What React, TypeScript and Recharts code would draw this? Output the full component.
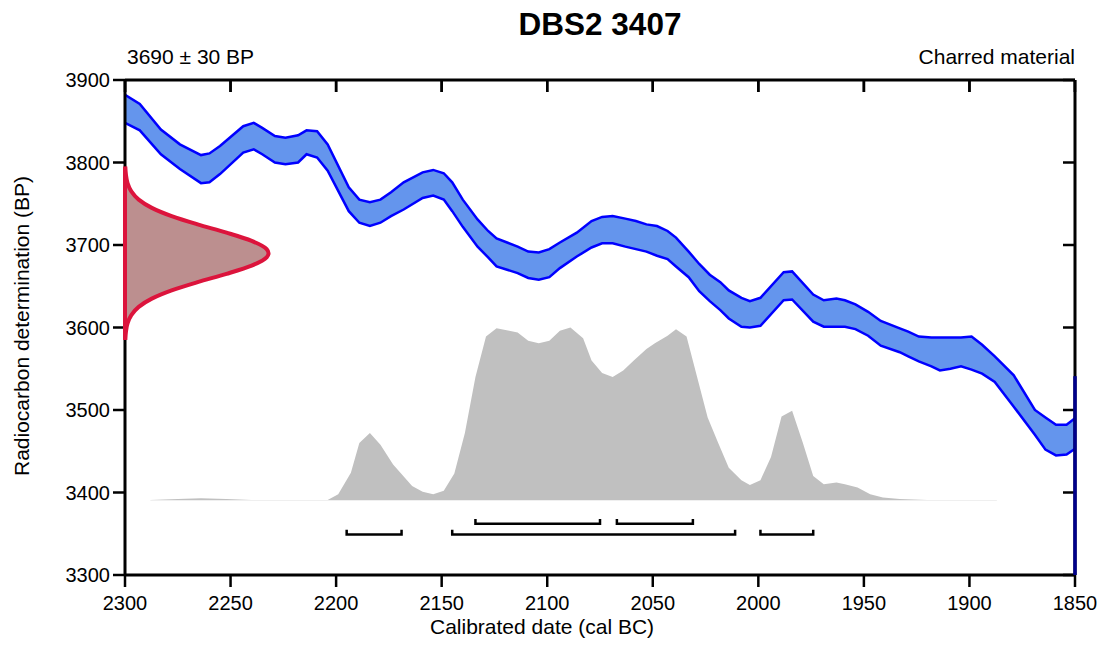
import React from "react"
import { ComposedChart, Area, Line, XAxis, YAxis, ReferenceLine } from "recharts"

const FONT = '"Liberation Sans", Arial, Helvetica, sans-serif'

// calibration curve (cal BC) with lower / upper edges of the band (BP)
const bandYears = [2300, 2293, 2283, 2274, 2264, 2260, 2255, 2244, 2239, 2235, 2229, 2224, 2218, 2214, 2209, 2204, 2194, 2189, 2184, 2179, 2174, 2168, 2159, 2154, 2149, 2145, 2140, 2133, 2128, 2124, 2119, 2114, 2109, 2104, 2099, 2094, 2086, 2079, 2074, 2069, 2063, 2058, 2053, 2048, 2043, 2039, 2033, 2028, 2023, 2018, 2014, 2008, 2004, 1999, 1988, 1984, 1974, 1969, 1963, 1959, 1954, 1948, 1942, 1933, 1929, 1924, 1918, 1914, 1909, 1904, 1899, 1894, 1888, 1879, 1869, 1864, 1859, 1854, 1850]
const bandLower = [3848, 3839, 3810, 3792, 3775, 3776, 3786, 3812, 3816, 3810, 3800, 3798, 3800, 3810, 3806, 3790, 3741, 3727, 3723, 3727, 3735, 3743, 3757, 3760, 3755, 3741, 3722, 3698, 3685, 3674, 3670, 3666, 3660, 3658, 3661, 3672, 3686, 3697, 3702, 3702, 3698, 3695, 3692, 3687, 3683, 3674, 3661, 3644, 3632, 3621, 3611, 3601, 3600, 3602, 3633, 3634, 3607, 3601, 3601, 3601, 3598, 3590, 3578, 3570, 3565, 3559, 3553, 3548, 3550, 3553, 3549, 3544, 3534, 3504, 3470, 3452, 3445, 3446, 3453]
const bandUpper = [3882, 3871, 3840, 3822, 3809, 3811, 3820, 3844, 3848, 3842, 3832, 3830, 3833, 3839, 3838, 3822, 3770, 3755, 3752, 3755, 3764, 3776, 3788, 3791, 3787, 3776, 3755, 3731, 3717, 3708, 3703, 3698, 3692, 3691, 3695, 3703, 3715, 3729, 3734, 3735, 3732, 3729, 3725, 3723, 3717, 3709, 3692, 3677, 3664, 3655, 3645, 3636, 3632, 3636, 3667, 3668, 3640, 3633, 3635, 3633, 3628, 3619, 3608, 3599, 3595, 3589, 3588, 3588, 3588, 3588, 3589, 3579, 3565, 3542, 3500, 3491, 3482, 3482, 3490]

// calibrated probability distribution (drawn on the BP scale, sitting on PROB_BASE)
const PROB_BASE = 3390.5
const probYears = [2288, 2275, 2264, 2252, 2240, 2204, 2199, 2193, 2189, 2184, 2179, 2173, 2164, 2159, 2154, 2149, 2144, 2139, 2134, 2129, 2124, 2118, 2114, 2109, 2104, 2099, 2094, 2089, 2083, 2079, 2074, 2069, 2064, 2059, 2053, 2049, 2043, 2039, 2034, 2029, 2024, 2019, 2014, 2008, 2004, 1999, 1994, 1989, 1984, 1979, 1974, 1969, 1963, 1959, 1953, 1947, 1941, 1933, 1920, 1900, 1887]
const probValues = [3391, 3392, 3393, 3392, 3391, 3391, 3398, 3424, 3460, 3472, 3458, 3434, 3408, 3401, 3398, 3402, 3423, 3472, 3540, 3589, 3599, 3596, 3594, 3584, 3581, 3584, 3596, 3600, 3587, 3560, 3545, 3540, 3548, 3560, 3574, 3581, 3590, 3598, 3589, 3540, 3491, 3460, 3430, 3415, 3409, 3415, 3443, 3492, 3499, 3461, 3420, 3410, 3412, 3410, 3406, 3398, 3394, 3392, 3391, 3391, 3391]

// radiocarbon measurement 3690 ± 30 BP, width in years from the axis
const pdfBP = [3795, 3785, 3775, 3765, 3755, 3745, 3735, 3725, 3715, 3705, 3695, 3690, 3685, 3675, 3665, 3655, 3645, 3635, 3625, 3615, 3605, 3595, 3585]
const pdfWidth = [0.15, 0.45, 1.2, 3.0, 6.5, 12.7, 22.1, 34.4, 48.1, 60.0, 67.1, 68, 67.1, 60.0, 48.1, 34.4, 22.1, 12.7, 6.5, 3.0, 1.2, 0.45, 0.15]

// highest posterior density ranges (cal BC)
const ranges68 = [[2134, 2075], [2067, 2031]]
const ranges95 = [[2195, 2169], [2145, 2011], [1999, 1974]]
const LEVEL68 = [3362, 3368]
const LEVEL95 = [3349, 3355]

const xTicks = [2300, 2250, 2200, 2150, 2100, 2050, 2000, 1950, 1900, 1850]
const yTicks = [3300, 3400, 3500, 3600, 3700, 3800, 3900]

const bandData = bandYears.map((yr, i) => ({ yr, band: [bandLower[i], bandUpper[i]] }))
const probData = probYears.map((yr, i) => ({ yr, p: probValues[i] }))
const pdfData = pdfBP.map((bp, i) => ({ bp, h: pdfWidth[i] }))
const bracket = (r: number[], lvl: number[]) => [
  { yr: r[0], y: lvl[1] },
  { yr: r[0], y: lvl[0] },
  { yr: r[1], y: lvl[0] },
  { yr: r[1], y: lvl[1] },
]

const W = 1101
const H = 651
const TOP_TICK_BP = 14.5 // inward tick length on the top frame, in BP units (~12px)
const axisStyle = { stroke: "#000", strokeWidth: 3 }
const tickStyle = { stroke: "#000", strokeWidth: 2.5 }
const noLabel = () => <g />

export default function App() {
  return (
    <div style={{ position: "absolute", left: 0, top: 0, width: W, height: H, fontFamily: FONT, background: "#fff" }}>
      <div style={{ position: "absolute", left: 0, top: 0 }}>
        <ComposedChart width={W} height={H} margin={{ top: 68, right: 26, bottom: 0, left: 0 }}>
          <XAxis
            xAxisId="b"
            type="number"
            dataKey="yr"
            domain={[1850, 2300]}
            reversed
            allowDataOverflow
            ticks={xTicks}
            height={76}
            tickSize={12}
            tickMargin={9}
            axisLine={axisStyle}
            tickLine={tickStyle}
            tick={{ fontSize: 20, fill: "#000", fontFamily: FONT }}
          />
          <XAxis
            xAxisId="t"
            orientation="top"
            type="number"
            dataKey="yr"
            domain={[1850, 2300]}
            reversed
            allowDataOverflow
            ticks={xTicks}
            interval={0}
            height={12}
            tickSize={-12}
            axisLine={axisStyle}
            tickLine={tickStyle}
            tick={noLabel}
          />
          <YAxis
            yAxisId="l"
            type="number"
            domain={[3300, 3900]}
            allowDataOverflow
            ticks={yTicks}
            width={125}
            tickSize={12}
            tickMargin={3}
            axisLine={axisStyle}
            tickLine={tickStyle}
            tick={{ fontSize: 20, fill: "#000", fontFamily: FONT }}
          />
          <YAxis
            yAxisId="r"
            orientation="right"
            mirror
            type="number"
            domain={[3300, 3900]}
            allowDataOverflow
            ticks={yTicks}
            interval={0}
            width={1}
            tickSize={12}
            axisLine={axisStyle}
            tickLine={tickStyle}
            tick={noLabel}
          />
          <Area
            xAxisId="b"
            yAxisId="l"
            data={probData}
            dataKey="p"
            baseValue={PROB_BASE}
            type="linear"
            fill="#C0C0C0"
            fillOpacity={1}
            stroke="none"
            isAnimationActive={false}
          />
          {ranges68.map((r, i) => (
            <Line
              key={"a" + i}
              xAxisId="b"
              yAxisId="l"
              data={bracket(r, LEVEL68)}
              dataKey="y"
              type="linear"
              stroke="#000"
              strokeWidth={2.5}
              dot={false}
              activeDot={false}
              isAnimationActive={false}
            />
          ))}
          {ranges95.map((r, i) => (
            <Line
              key={"b" + i}
              xAxisId="b"
              yAxisId="l"
              data={bracket(r, LEVEL95)}
              dataKey="y"
              type="linear"
              stroke="#000"
              strokeWidth={2.5}
              dot={false}
              activeDot={false}
              isAnimationActive={false}
            />
          ))}
          {/* inward ticks along the top frame */}
          {xTicks.map((t) => (
            <Line
              key={"tt" + t}
              xAxisId="b"
              yAxisId="l"
              data={[
                { yr: t, y: 3900 },
                { yr: t, y: 3900 - TOP_TICK_BP },
              ]}
              dataKey="y"
              type="linear"
              stroke="#000"
              strokeWidth={2.5}
              dot={false}
              activeDot={false}
              isAnimationActive={false}
            />
          ))}
          <Area
            xAxisId="b"
            yAxisId="l"
            data={bandData}
            dataKey="band"
            type="linear"
            fill="#6495ED"
            fillOpacity={1}
            stroke="#0000FF"
            strokeWidth={2.5}
            isAnimationActive={false}
          />
          {/* invisible series so the top and right frame axes get drawn */}
          <Line
            xAxisId="t"
            yAxisId="r"
            data={probData}
            dataKey="p"
            stroke="none"
            dot={false}
            activeDot={false}
            legendType="none"
            isAnimationActive={false}
          />
        </ComposedChart>
      </div>
      <div style={{ position: "absolute", left: 0, top: 0 }}>
        <ComposedChart layout="vertical" width={W} height={H} margin={{ top: 80, right: 26, bottom: 76, left: 125 }}>
          <XAxis xAxisId="p" type="number" domain={[0, 450]} hide />
          <YAxis yAxisId="p" type="number" dataKey="bp" domain={[3300, 3900]} reversed hide />
          <Area
            xAxisId="p"
            yAxisId="p"
            data={pdfData}
            dataKey="h"
            baseValue={0}
            type="monotone"
            fill="#BC8F8F"
            fillOpacity={1}
            stroke="#DC143C"
            strokeWidth={4}
            isAnimationActive={false}
          />
          <ReferenceLine
            xAxisId="p"
            yAxisId="p"
            segment={[{ x: 0, y: 3585 }, { x: 0, y: 3795 }]}
            stroke="#DC143C"
            strokeWidth={4}
            ifOverflow="visible"
          />
          {/* calibration curve running past the right edge (1850 cal BC) */}
          <ReferenceLine
            xAxisId="p"
            yAxisId="p"
            segment={[{ x: 450, y: 3300 }, { x: 450, y: 3541 }]}
            stroke="#00008B"
            strokeWidth={3.5}
            ifOverflow="visible"
          />
        </ComposedChart>
      </div>
      <svg width={W} height={H} style={{ position: "absolute", left: 0, top: 0, pointerEvents: "none" }}>
        <text x={600} y={35} textAnchor="middle" fontSize={31.5} fontWeight="bold" fontFamily={FONT} fill="#000">
          DBS2 3407
        </text>
        <text x={127} y={64} fontSize={21} fontFamily={FONT} fill="#000">
          3690 ± 30 BP
        </text>
        <text x={1075} y={64} textAnchor="end" fontSize={21} fontFamily={FONT} fill="#000">
          Charred material
        </text>
        <text x={430} y={634} fontSize={21} fontFamily={FONT} fill="#000">
          Calibrated date (cal BC)
        </text>
        <text
          x={28.5}
          y={326}
          textAnchor="middle"
          fontSize={21}
          fontFamily={FONT}
          fill="#000"
          transform="rotate(-90 28.5 326)"
        >
          Radiocarbon determination (BP)
        </text>
      </svg>
    </div>
  )
}
